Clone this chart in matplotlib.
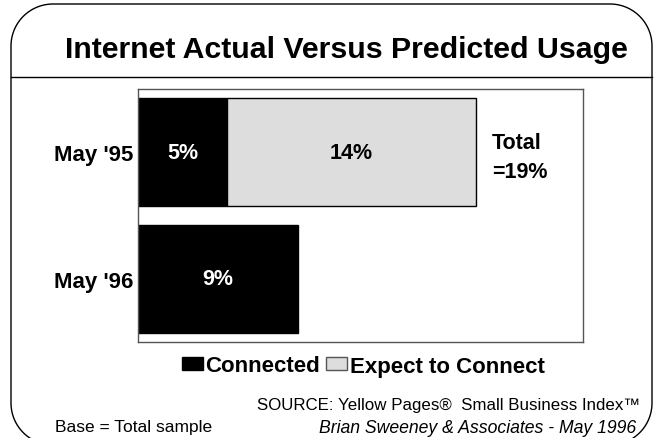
import matplotlib
matplotlib.use("Agg")
import numpy as np
import matplotlib.pyplot as plt
from matplotlib.patches import Patch, Polygon

plt.rcParams['font.family'] = ['Liberation Sans', 'DejaVu Sans']

# data
periods = ["May '95", "May '96"]
connected = [5, 9]
expect_to_connect = [14, 0]
bar_labels_connected = ["5%", "9%"]
bar_labels_expect = ["14%", ""]
total_note = "Total\n=19%"

W, H = 659, 439
fig = plt.figure(figsize=(W / 100, H / 100), dpi=100)

# background layer in pixel coordinates for the frame and page text
bg = fig.add_axes([0, 0, 1, 1])
bg.set_xlim(0, W)
bg.set_ylim(H, 0)
bg.axis('off')

# rounded frame outline
left, right, top, bottom, r = 11, 652, 5, 446, 42
pts = []
for cx, cy, a0 in [(right - r, top + r, -90), (right - r, bottom - r, 0),
                   (left + r, bottom - r, 90), (left + r, top + r, 180)]:
    t = np.radians(np.linspace(a0, a0 + 90, 30))
    pts.extend(zip(cx + r * np.cos(t), cy + r * np.sin(t)))
bg.add_patch(Polygon(pts, closed=True, fill=False, edgecolor='black', linewidth=1.0,
                     joinstyle='round'))
bg.plot([left, right], [78, 78], color='black', linewidth=1.0)

bg.text(346, 50, "Internet Actual Versus Predicted Usage", ha='center', va='center',
        fontsize=21.8, fontweight='bold')
bg.text(640, 406, "SOURCE: Yellow Pages\u00ae  Small Business Index\u2122", ha='right',
        va='center', fontsize=12.2)
bg.text(636, 429, "Brian Sweeney & Associates - May 1996", ha='right', va='center',
        fontsize=12.7, style='italic')
bg.text(55, 428, "Base = Total sample", ha='left', va='center', fontsize=12.5)

# main chart
ax = fig.add_axes([138 / W, 1 - 343 / H, 445 / W, 253 / H])
y = range(len(periods))
ax.barh(y, connected, height=0.85, color='black', edgecolor='black', linewidth=1)
ax.barh(y, expect_to_connect, left=connected, height=0.85, color='#dddddd',
        edgecolor=['black' if v > 0 else 'none' for v in expect_to_connect], linewidth=1)
for i in y:
    ax.text(connected[i] / 2, i, bar_labels_connected[i], ha='center', va='center',
            color='white', fontsize=15.5, fontweight='bold')
    if bar_labels_expect[i]:
        ax.text(connected[i] + expect_to_connect[i] / 2, i, bar_labels_expect[i],
                ha='center', va='center', color='black', fontsize=15.5, fontweight='bold')
ax.text(connected[0] + expect_to_connect[0] + 0.9, 0.04, total_note, ha='left', va='center',
        fontsize=15.5, fontweight='bold', linespacing=1.5)

ax.set_xlim(0, 25)
ax.set_ylim(1.5, -0.5)
ax.set_xticks([])
ax.set_yticks(list(y))
ax.set_yticklabels(periods, fontsize=16, fontweight='bold')
ax.tick_params(axis='y', length=0, pad=3.5)
for s in ax.spines.values():
    s.set_color('#555555')
    s.set_linewidth(1.0)

handles = [Patch(facecolor='black', edgecolor='black', label='Connected'),
           Patch(facecolor='#dddddd', edgecolor='#555555', label='Expect to Connect')]
fig.legend(handles=handles, loc='center', bbox_to_anchor=(363 / W, 1 - 367 / H), ncol=2,
           frameon=False, prop={'size': 16, 'weight': 'bold'}, handlelength=0.95,
           handleheight=0.55, handletextpad=0.1, columnspacing=0.3)

fig.savefig("out.png", dpi=100)
